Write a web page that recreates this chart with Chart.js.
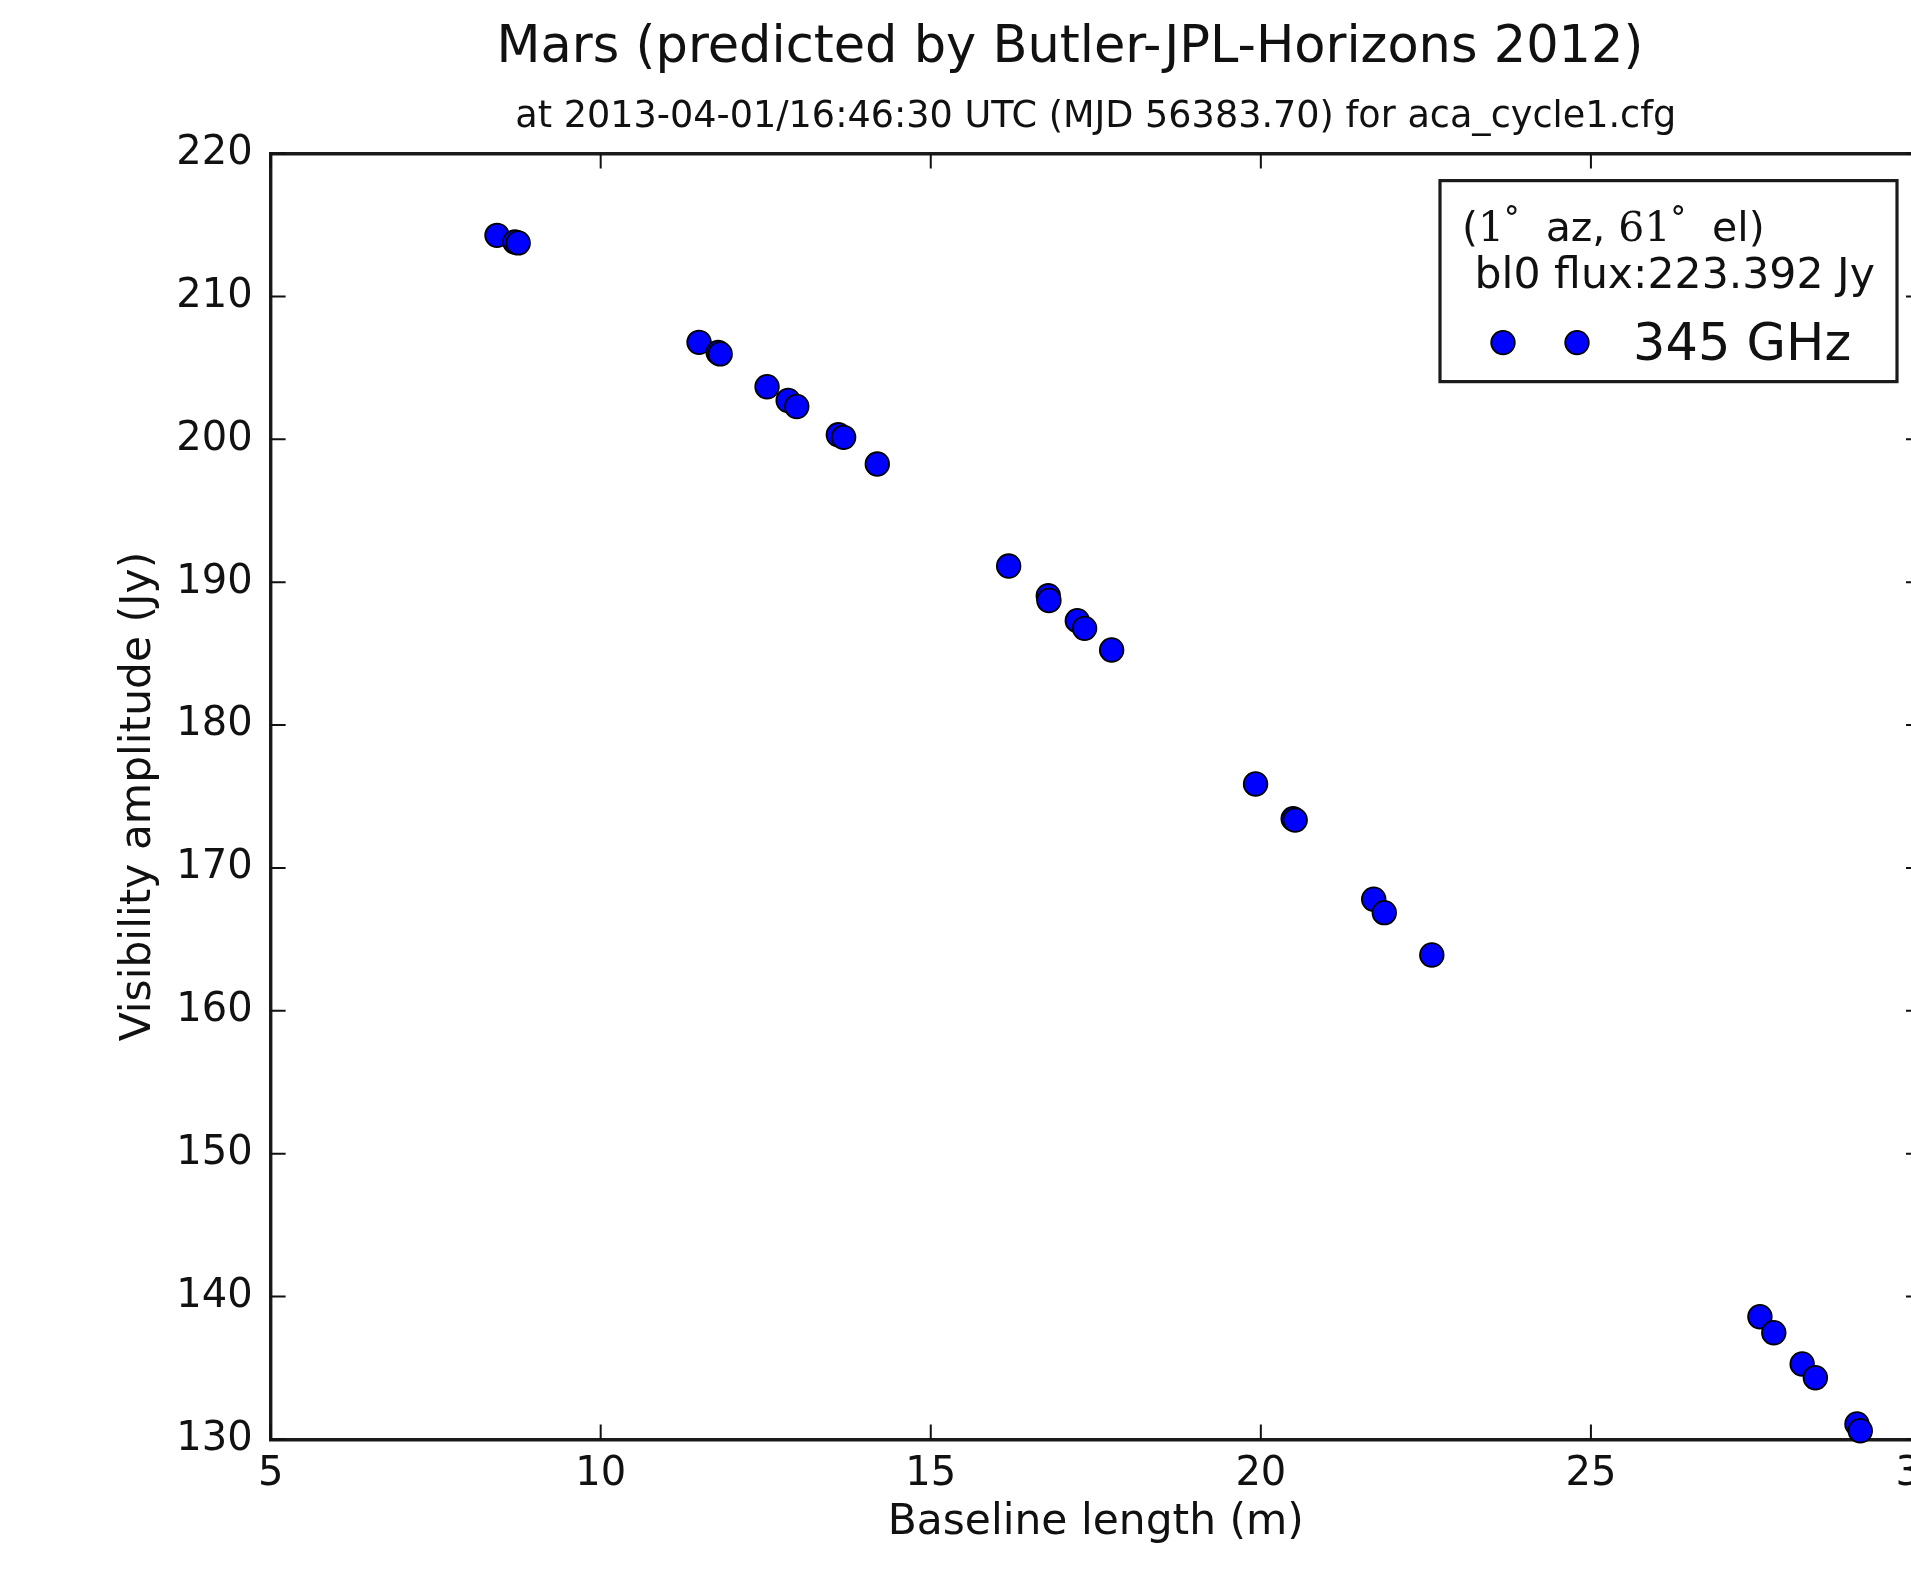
<!DOCTYPE html>
<html><head><meta charset="utf-8">
<script src="https://cdn.jsdelivr.net/npm/chart.js@4.4.0/dist/chart.umd.min.js"></script>
<style>
html,body{margin:0;padding:0;overflow:hidden;background:#fff;width:1911px;height:1581px}
#wrap{position:absolute;left:0;top:0;width:2140px;height:1581px}
</style>
</head><body><div id="wrap"><canvas id="c" width="2140" height="1581"></canvas></div>
<script>
const titleText = 'Mars (predicted by Butler-JPL-Horizons 2012)';
const subtitleText = 'at 2013-04-01/16:46:30 UTC (MJD 56383.70) for aca_cycle1.cfg';
const xAxisLabel = 'Baseline length (m)';
const yAxisLabel = 'Visibility amplitude (Jy)';
const xTicks = [5, 10, 15, 20, 25, 30];
const yTicks = [130, 140, 150, 160, 170, 180, 190, 200, 210, 220];
const baselines = [8.43, 8.70, 8.75, 11.49, 11.78, 11.81, 12.52, 12.84, 12.97, 13.60, 13.68, 14.19,
  16.18, 16.78, 16.79, 17.22, 17.33, 17.74, 19.92, 20.49, 20.52, 21.71, 21.87, 22.59,
  27.56, 27.77, 28.20, 28.40, 29.03, 29.08];
const amplitudes = [214.28, 213.82, 213.75, 206.79, 206.08, 205.98, 203.68, 202.72, 202.30, 200.32, 200.14, 198.27,
  191.13, 189.05, 188.72, 187.31, 186.77, 185.26, 175.88, 173.45, 173.35, 167.81, 166.87, 163.91,
  138.59, 137.47, 135.28, 134.32, 131.08, 130.61];
const seriesLabel = '345 GHz';
const legendAz = '1';
const legendEl = '61';
const legendFlux = 'bl0 flux:223.392 Jy';

const FONT = "'DejaVu Sans', sans-serif";
const SERIF = "'DejaVu Serif', 'Liberation Serif', serif";
const INK = '#111';
const MARK_FILL = '#0000ff';
const MARK_EDGE = '#000000';
const MARK_R = 11.8;

const points = baselines.map((b, i) => ({x: b, y: amplitudes[i]}));

const inwardTicks = {
  id: 'inwardTicks',
  beforeDatasetsDraw(chart) {
    const {ctx, chartArea: a, scales: {x, y}} = chart;
    ctx.save();
    ctx.strokeStyle = INK;
    ctx.lineWidth = 2;
    ctx.beginPath();
    x.ticks.forEach(t => {
      const px = x.getPixelForValue(t.value);
      ctx.moveTo(px, a.bottom); ctx.lineTo(px, a.bottom - 15);
      ctx.moveTo(px, a.top); ctx.lineTo(px, a.top + 15);
    });
    y.ticks.forEach(t => {
      const py = y.getPixelForValue(t.value);
      ctx.moveTo(a.left, py); ctx.lineTo(a.left + 15, py);
      ctx.moveTo(a.right, py); ctx.lineTo(a.right - 15, py);
    });
    ctx.stroke();
    ctx.restore();
  }
};

const boxLegend = {
  id: 'boxLegend',
  afterDraw(chart) {
    const {ctx, chartArea: a} = chart;
    const L = a.right - 481, T = a.top + 27, W = 457, H = 201;
    ctx.save();
    ctx.fillStyle = '#fff';
    ctx.fillRect(L, T, W, H);
    ctx.strokeStyle = '#1a1a1a';
    ctx.lineWidth = 3.2;
    ctx.strokeRect(L, T, W, H);
    ctx.fillStyle = INK;
    ctx.textBaseline = 'alphabetic';
    ctx.textAlign = 'left';
    let cx = L + 22;
    const b1 = T + 60;
    const pieces = [
      ['(', FONT, 41], [legendAz, SERIF, 41], ['°', SERIF, 31], ['  az, ', FONT, 41],
      [legendEl, SERIF, 41], ['°', SERIF, 31], ['  el)', FONT, 41]
    ];
    pieces.forEach(([txt, fam, sz]) => {
      ctx.font = sz + 'px ' + fam;
      const dy = txt === '°' ? -12 : 0;
      ctx.fillText(txt, cx, b1 + dy);
      cx += ctx.measureText(txt).width;
    });
    ctx.font = '42.6px ' + FONT;
    ctx.fillText(' ' + legendFlux, L + 21, T + 107);
    const my = T + 162;
    [L + 63, L + 137].forEach(mx => {
      ctx.beginPath();
      ctx.arc(mx, my, MARK_R, 0, Math.PI * 2);
      ctx.fillStyle = MARK_FILL; ctx.fill();
      ctx.lineWidth = 1.8; ctx.strokeStyle = MARK_EDGE; ctx.stroke();
    });
    ctx.fillStyle = INK;
    ctx.font = '51px ' + FONT;
    ctx.fillText(seriesLabel, L + 193, T + 179);
    ctx.restore();
  }
};

new Chart(document.getElementById('c'), {
  type: 'scatter',
  data: {
    datasets: [{
      label: seriesLabel,
      data: points,
      backgroundColor: MARK_FILL,
      borderColor: MARK_EDGE,
      borderWidth: 1.8,
      pointRadius: MARK_R,
      pointHoverRadius: MARK_R,
      clip: false
    }]
  },
  options: {
    responsive: false,
    animation: false,
    events: [],
    layout: {padding: 0},
    plugins: {
      legend: {display: false},
      tooltip: {enabled: false},
      title: {
        display: true, text: titleText, color: INK,
        font: {family: FONT, size: 51, weight: 'normal', lineHeight: 1.2},
        padding: {top: 18.5, bottom: 0}
      },
      subtitle: {
        display: true, text: subtitleText, color: INK, fullSize: false,
        font: {family: FONT, size: 36.6, weight: 'normal', lineHeight: 1.2},
        padding: {top: 15.5, bottom: 14.5}
      }
    },
    scales: {
      x: {
        type: 'linear', position: 'bottom', min: 5, max: 30,
        afterBuildTicks: s => { s.ticks = xTicks.map(v => ({value: v})); },
        ticks: {color: INK, padding: 11, font: {family: FONT, size: 40}, maxRotation: 0, autoSkip: false},
        grid: {display: true, drawOnChartArea: false, drawTicks: false},
        border: {display: true, color: '#1a1a1a', width: 3.4},
        title: {display: true, text: xAxisLabel, color: INK, font: {family: FONT, size: 42.4, lineHeight: 1.2}, padding: {top: 0, bottom: 33}},
        afterFit: s => { s.height = 141.6; }
      },
      x2: {
        type: 'linear', position: 'top', min: 5, max: 30,
        ticks: {display: false},
        grid: {display: true, drawOnChartArea: false, drawTicks: false},
        border: {display: true, color: '#1a1a1a', width: 3.4},
        afterFit: s => { s.height = 0; }
      },
      y: {
        type: 'linear', position: 'left', min: 130, max: 220,
        afterBuildTicks: s => { s.ticks = yTicks.map(v => ({value: v})); },
        ticks: {color: INK, padding: 18, font: {family: FONT, size: 40}, autoSkip: false},
        grid: {display: true, drawOnChartArea: false, drawTicks: false},
        border: {display: true, color: '#1a1a1a', width: 3.4},
        title: {display: true, text: yAxisLabel, color: INK, font: {family: FONT, size: 42.4, lineHeight: 1.2}, padding: {top: 113.6, bottom: 0}},
        afterFit: s => { s.width = 270.6; }
      },
      y2: {
        type: 'linear', position: 'right', min: 130, max: 220,
        ticks: {display: false},
        grid: {display: true, drawOnChartArea: false, drawTicks: false},
        border: {display: true, color: '#1a1a1a', width: 3.4},
        afterFit: s => { s.width = 219; }
      }
    }
  },
  plugins: [inwardTicks, boxLegend]
});
</script>
</body></html>
